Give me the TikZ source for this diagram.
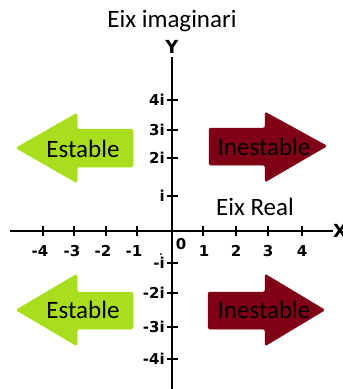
\documentclass[tikz,border=0pt]{standalone}
\usepackage{fontspec}
\setmainfont{Carlito}
\newfontfamily\tickfont{DejaVu Sans}
\definecolor{estgreen}{RGB}{168,222,30}
\definecolor{inred}{RGB}{128,0,22}
\begin{document}
\begin{tikzpicture}[x=1bp,y=-1bp,
  axisline/.style={line width=1.4bp,black},
  tickline/.style={line width=1.2bp,black},
  ticklab/.style={font=\tickfont\fontsize{15bp}{16bp}\selectfont\bfseries,inner sep=0pt},
  axlab/.style={font=\tickfont\fontsize{18bp}{19bp}\selectfont\bfseries,inner sep=0pt},
  bigtext/.style={font=\fontsize{25bp}{28bp}\selectfont,inner sep=0pt,text=black},
  greenarrow/.style={fill=estgreen,draw=estgreen,line width=0.5bp,rounded corners=1.5bp},
  redarrow/.style={fill=inred,draw=inred,line width=0.5bp,rounded corners=1.5bp}]
\useasboundingbox (0,0) rectangle (343,389);
\clip (0,0) rectangle (343,389);
% arrows
\draw[greenarrow] (16,148) -- (77,113) -- (77,129) -- (133,129) -- (133,167) -- (77,167) -- (77,183) -- cycle;
\draw[redarrow] (327,146) -- (265,112) -- (265,128) -- (209,128) -- (209,165) -- (265,165) -- (265,182) -- cycle;
\draw[greenarrow] (16,310) -- (77,274) -- (77,292) -- (133,292) -- (133,329) -- (77,329) -- (77,346) -- cycle;
\draw[redarrow] (325,310) -- (265,274) -- (265,292) -- (208,292) -- (208,329) -- (265,329) -- (265,346) -- cycle;
\node[bigtext] (e1) at (83,149) {Estable};
\node[bigtext] (i1) at (264,147) {Inestable};
\node[bigtext] (e2) at (83,310) {Estable};
\node[bigtext] (i2) at (264,310) {Inestable};
% titles
\node[bigtext] (title) at (172,21) {Eix imaginari};
\node[bigtext] (real) at (255,207) {Eix Real};
% axes
\coordinate (ytop) at (172,57);
\coordinate (ybot) at (172,389);
\coordinate (xl) at (10,231);
\coordinate (xr) at (333,231);
\draw[axisline] (ytop) -- (ybot);
\draw[axisline] (xl) -- (xr);
\node[axlab] (ylab) at (172,47) {Y};
\node[axlab,anchor=west] (xlab) at (333,231) {X};
% x ticks
\foreach \x/\lab/\lx in {43/-4/40,74/-3/72,106/-2/103,137/-1/134,203/1/204,236/2/236,268/3/268,302/4/302}{
  \draw[tickline] (\x,226) -- (\x,236);
  \node[ticklab] at (\lx,251) {\lab};
}
\node[ticklab] (zero) at (181,244) {0};
\fill (161,254) circle (1bp);
% y ticks
\foreach \y/\lab in {100/4i,130/3i,158/2i,196/i,263/-i,293/-2i,327/-3i,359/-4i}{
  \draw[tickline] (167,\y) -- (178,\y);
  \node[ticklab,anchor=east] at (165,\y) {\lab};
}
\end{tikzpicture}
\end{document}
